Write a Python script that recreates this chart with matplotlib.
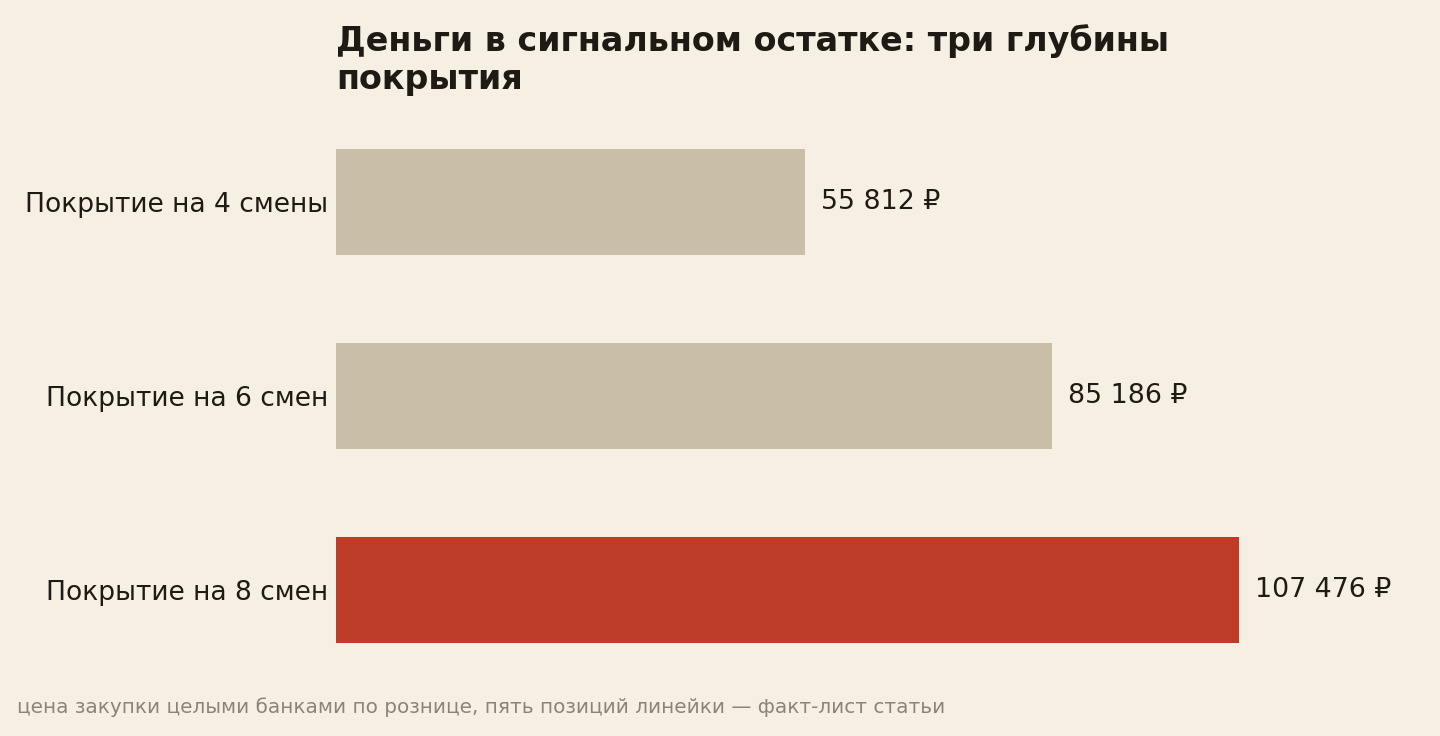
import matplotlib
matplotlib.use('Agg')
import matplotlib.pyplot as plt

categories = ['Покрытие на 4 смены', 'Покрытие на 6 смен', 'Покрытие на 8 смен']
values = [55812, 85186, 107476]
labels = ['55 812 ₽', '85 186 ₽', '107 476 ₽']
colors = ['#c9bfa8', '#c9bfa8', '#bc3c28']

bg = '#f6efe3'
ink = '#1f1a14'

plt.rcParams['font.family'] = ['DejaVu Sans']

fig = plt.figure(figsize=(14.4, 7.36), dpi=100, facecolor=bg)
ax = fig.add_axes([336/1440, 1-667.6/736, 1084/1440, 543.2/736])
ax.set_facecolor(bg)

y = list(range(len(categories)))
ax.barh(y, values, height=0.55, color=colors)
for yi, v, lab in zip(y, values, labels):
    ax.text(v + 1900, yi, lab, va='center', ha='left', fontsize=19.3, color=ink)

ax.set_xlim(0, max(values) * 1.2)
ax.set_ylim(2.4, -0.4)
ax.set_yticks(y)
ax.set_yticklabels(categories, fontsize=19.1, color=ink)
ax.tick_params(axis='y', length=0, pad=5.8)
ax.set_xticks([])
for s in ax.spines.values():
    s.set_visible(False)

fig.text(336/1440, 1-24/736, 'Деньги в сигнальном остатке: три глубины\nпокрытия',
         ha='left', va='top', fontsize=24, fontweight='bold', color=ink, linespacing=1.2)
fig.text(17/1440, 1-707/736, 'цена закупки целыми банками по рознице, пять позиций линейки — факт-лист статьи',
         ha='left', va='center', fontsize=14.4, color='#8a8478')

fig.savefig('out.png', dpi=100, facecolor=bg)
